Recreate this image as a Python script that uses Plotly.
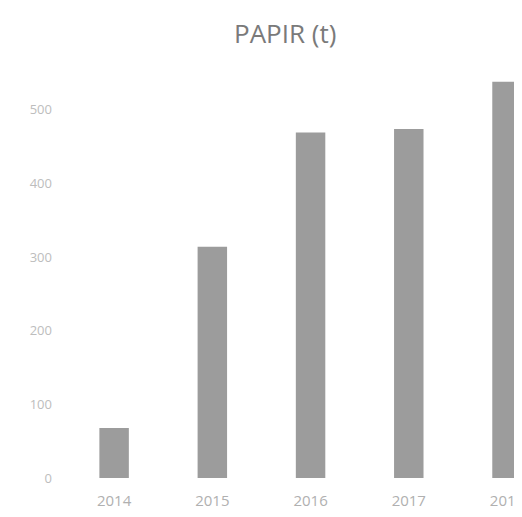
import plotly.graph_objects as go

years = ["2014", "2015", "2016", "2017", "2018"]
tonnes = [68, 314, 469, 474, 538]
y_ticks = [0, 100, 200, 300, 400, 500]

fig = go.Figure(
    go.Bar(
        x=years,
        y=tonnes,
        marker=dict(color="#9c9c9c", line=dict(width=0)),
        width=0.3,
    )
)

# page body has an 8px margin, so the figure is shifted to compensate
fig.update_layout(
    title=dict(
        text="PAPIR (t)",
        x=0.531,
        xref="container",
        xanchor="center",
        y=0.968,
        yref="container",
        font=dict(family="Open Sans", size=26, color="#7a7a7a"),
    ),
    width=522,
    height=517,
    margin=dict(l=57, r=0, t=62, b=47),
    plot_bgcolor="white",
    paper_bgcolor="white",
    showlegend=False,
    font=dict(family="Open Sans", size=12, color="#b8b8b8"),
)

fig.update_xaxes(
    range=[-0.5, 4.234],
    showgrid=False,
    showline=False,
    zeroline=False,
    ticks="",
    ticklabelstandoff=12,
    tickfont=dict(size=15, color="#b0b0b0"),
)
fig.update_yaxes(
    range=[0, 554],
    tickvals=y_ticks,
    showgrid=False,
    showline=False,
    zeroline=False,
    ticks="",
    ticklabelstandoff=12,
    tickfont=dict(size=13, color="#bdbdbd"),
)

fig.write_html("out.html")
